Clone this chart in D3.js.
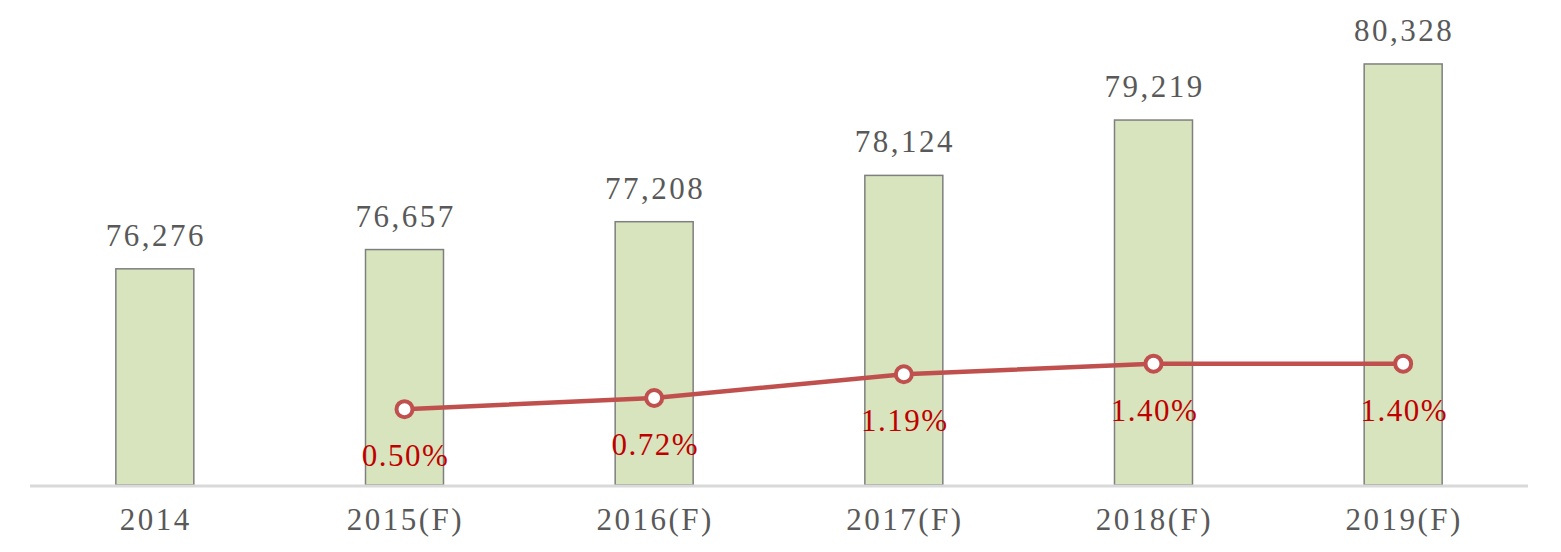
<!DOCTYPE html>
<html>
<head>
<meta charset="utf-8">
<script src="https://cdn.jsdelivr.net/npm/d3@7"></script>
<style>
  body { margin: 0; background: #fff; }
  text { font-family: "Liberation Serif", "DejaVu Serif", serif; }
</style>
</head>
<body>
<script>
var width = 1561;
var height = 552;

// data
var categories = ["2014", "2015(F)", "2016(F)", "2017(F)", "2018(F)", "2019(F)"];
var values = [76276, 76657, 77208, 78124, 79219, 80328];
var growth = [null, 0.50, 0.72, 1.19, 1.40, 1.40];

var plotLeft = 30, plotRight = 1528, plotTop = 30, plotBottom = 485;

var svg = d3.select("body").append("svg")
    .attr("width", width)
    .attr("height", height);

var x = d3.scaleBand()
    .domain(categories)
    .range([plotLeft, plotRight]);

var y = d3.scaleLinear()
    .domain([72000, 81000])
    .range([plotBottom, plotTop]);

// secondary axis for the growth line
var y2 = d3.scaleLinear()
    .domain([-1, 8])
    .range([plotBottom, plotTop]);

var barW = 78;
var fmt = d3.format(",");

var rows = categories.map(function (c, i) {
    return {cat: c, value: values[i], growth: growth[i]};
});

function cx(d) { return x(d.cat) + x.bandwidth() / 2; }

// bars
svg.selectAll("rect.bar").data(rows)
    .enter().append("rect").classed("bar", true)
    .attr("x", function (d) { return cx(d) - barW / 2; })
    .attr("y", function (d) { return y(d.value); })
    .attr("width", barW)
    .attr("height", function (d) { return plotBottom - y(d.value); })
    .attr("fill", "#d7e4bd")
    .attr("stroke", "#7f7f7f")
    .attr("stroke-width", 1.5);

// bar labels
svg.selectAll("text.val").data(rows)
    .enter().append("text").classed("val", true)
    .attr("x", function (d) { return cx(d) + 1; })
    .attr("y", function (d) { return y(d.value) - 23; })
    .attr("text-anchor", "middle")
    .attr("font-size", 31)
    .attr("letter-spacing", 2.5)
    .attr("fill", "#595959")
    .text(function (d) { return fmt(d.value); });

// x axis line
svg.append("line")
    .attr("x1", plotLeft)
    .attr("x2", plotRight)
    .attr("y1", plotBottom + 1)
    .attr("y2", plotBottom + 1)
    .style("stroke", "#d9d9d9")
    .style("stroke-width", 3);

// x labels
svg.selectAll("text.cat").data(rows)
    .enter().append("text").classed("cat", true)
    .attr("x", function (d) { return cx(d) + 1; })
    .attr("y", 530)
    .attr("text-anchor", "middle")
    .attr("font-size", 31)
    .attr("letter-spacing", 2.5)
    .attr("fill", "#595959")
    .text(function (d) { return d.cat; });

// growth line
var pts = rows.filter(function (d) { return d.growth != null; });

var line = d3.line()
    .x(cx)
    .y(function (d) { return y2(d.growth); });

svg.append("path")
    .datum(pts)
    .attr("d", line)
    .attr("fill", "none")
    .attr("stroke", "#c0504d")
    .attr("stroke-width", 4.5);

svg.selectAll("circle.pt").data(pts)
    .enter().append("circle").classed("pt", true)
    .attr("cx", cx)
    .attr("cy", function (d) { return y2(d.growth); })
    .attr("r", 8)
    .attr("fill", "#fff")
    .attr("stroke", "#c0504d")
    .attr("stroke-width", 4);

svg.selectAll("text.pct").data(pts)
    .enter().append("text").classed("pct", true)
    .attr("x", function (d) { return cx(d) + 1; })
    .attr("y", function (d) { return y2(d.growth) + 57; })
    .attr("text-anchor", "middle")
    .attr("font-size", 31)
    .attr("letter-spacing", 1.5)
    .attr("fill", "#c00000")
    .text(function (d) { return d.growth.toFixed(2) + "%"; });
</script>
</body>
</html>
